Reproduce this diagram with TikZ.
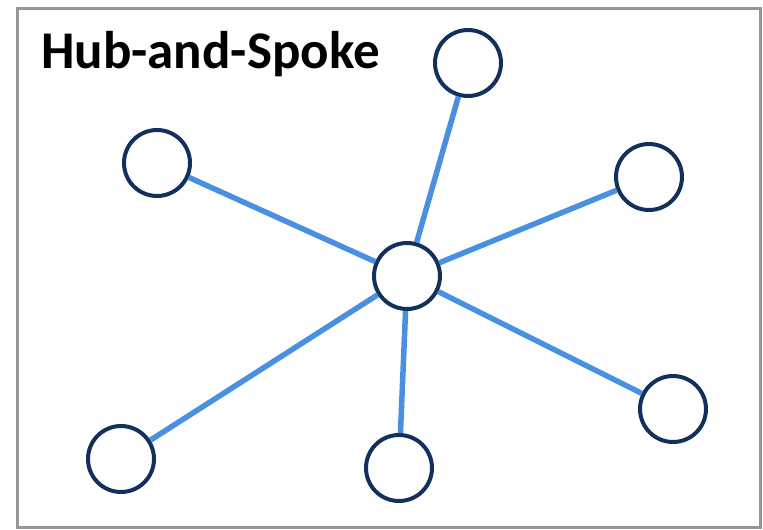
\documentclass[tikz,border=0pt]{standalone}
\usepackage{fontspec}
\setmainfont{Carlito}
\begin{document}
\begin{tikzpicture}[x=1pt,y=-1pt,
  spoke/.style={draw={rgb,255:red,74;green,144;blue,226}, line width=5.5pt},
  nd/.style={circle, draw={rgb,255:red,18;green,48;blue,92}, line width=4pt, fill=white, minimum size=66pt, inner sep=0pt}]
\useasboundingbox (0,0) rectangle (763,530);
\draw[draw={rgb,255:red,150;green,150;blue,150}, line width=3pt] (17,8) rectangle (760,527);
\node[anchor=base west, font=\bfseries\fontsize{53}{56}\selectfont, inner sep=0pt] (title) at (41,68) {Hub-and-Spoke};
\node[nd] (hub) at (407,276) {};
\node[nd] (n1) at (468,63) {};
\node[nd] (n2) at (157,163) {};
\node[nd] (n3) at (649,177) {};
\node[nd] (n4) at (673,409) {};
\node[nd] (n5) at (399,468) {};
\node[nd] (n6) at (121,459) {};
\foreach \n in {n1,n2,n3,n4,n5,n6} {\draw[spoke] (hub) -- (\n);}
\end{tikzpicture}
\end{document}
